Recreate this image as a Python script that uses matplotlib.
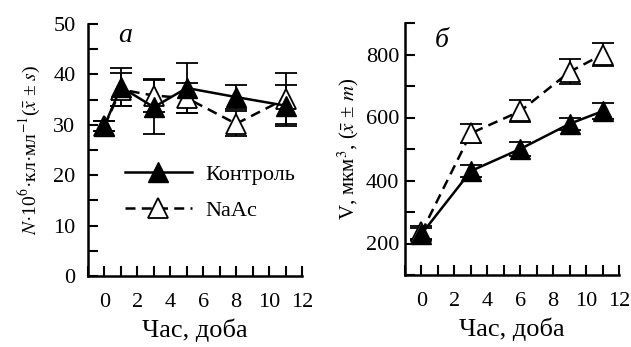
import numpy as np
import matplotlib
matplotlib.use('Agg')
import matplotlib.pyplot as plt
from matplotlib.ticker import MultipleLocator
from matplotlib.lines import Line2D

plt.rcParams['font.family'] = ['Liberation Serif', 'DejaVu Serif']
plt.rcParams['mathtext.fontset'] = 'stix'

# панель а: кількість клітин
hours_a = [0, 1, 3, 5, 8, 11]
control_a = [29.8, 37.5, 33.5, 37.3, 35.5, 33.8]
control_a_err = [1.0, 3.8, 5.3, 5.0, 2.3, 4.0]
naac_a = [29.8, 37.0, 35.8, 35.3, 30.2, 35.2]
naac_a_err = [1.0, 3.3, 3.3, 3.0, 2.5, 5.0]

# панель б: об'єм клітин
hours_b = [0, 3, 6, 9, 11]
control_b = [230, 430, 500, 580, 620]
control_b_err = [20, 20, 22, 20, 25]
naac_b = [235, 550, 620, 745, 800]
naac_b_err = [20, 30, 35, 40, 35]

fig = plt.figure(figsize=(6.31, 3.47), dpi=100)
ax1 = fig.add_axes([88/631, 1-276/347, 214/631, 252/347])
ax2 = fig.add_axes([405/631, 1-275/347, 214/631, 252/347])

style = dict(color='black', lw=1.8, markersize=14, capsize=8, elinewidth=1.3, capthick=1.3)

for ax, x, c, ce, n, ne in [(ax1, hours_a, control_a, control_a_err, naac_a, naac_a_err),
                            (ax2, hours_b, control_b, control_b_err, naac_b, naac_b_err)]:
    ax.errorbar(x, n, yerr=ne, marker='^', ls=(0, (4, 2.5)), mfc='white', mec='black', mew=1.3, **style)
    ax.errorbar(x, c, yerr=ce, marker='^', ls='-', mfc='black', mec='black', **style)
    ax.spines['top'].set_visible(False)
    ax.spines['right'].set_visible(False)
    for s in ['left', 'bottom']:
        ax.spines[s].set_linewidth(1.8)
    ax.set_xlim(-1, 12)
    ax.set_xticks(np.arange(0, 13, 2))
    ax.xaxis.set_minor_locator(MultipleLocator(1))
    ax.tick_params(which='both', direction='in', width=1.5, length=7, labelsize=16)
    ax.tick_params(axis='x', pad=12)
    ax.set_xlabel('Час, доба', fontsize=19, labelpad=5)

ax1.set_ylim(0, 50)
ax1.yaxis.set_major_locator(MultipleLocator(10))
ax1.yaxis.set_minor_locator(MultipleLocator(5))
ax1.tick_params(axis='y', pad=9)
ax1.set_ylabel(r'$N$·10$^6$·кл·мл$^{-1}$($\bar{x}$ ± $s$)', fontsize=14, labelpad=8)
ax1.text(0.14, 0.955, 'а', transform=ax1.transAxes, fontsize=20, style='italic', va='center')

ax2.set_ylim(100, 900)
ax2.yaxis.set_major_locator(MultipleLocator(200))
ax2.yaxis.set_minor_locator(MultipleLocator(100))
ax2.tick_params(axis='y', pad=4)
ax2.set_ylabel(r'V, мкм$^3$, ($\bar{x}$ ± $m$)', fontsize=15, labelpad=4)
ax2.text(0.14, 0.93, 'б', transform=ax2.transAxes, fontsize=20, style='italic', va='center')

handles = [Line2D([], [], color='black', lw=1.8, marker='^', markersize=14, mfc='black'),
           Line2D([], [], color='black', lw=1.8, ls=(0, (4, 2.5)), marker='^', markersize=14,
                  mfc='white', mew=1.3)]
ax1.legend(handles, ['Контроль', 'NaAc'], loc='lower left', bbox_to_anchor=(0.08, 0.14),
           frameon=False, fontsize=16, handlelength=3.0, labelspacing=0.7, handletextpad=0.6)

fig.savefig('out.png', dpi=100)
